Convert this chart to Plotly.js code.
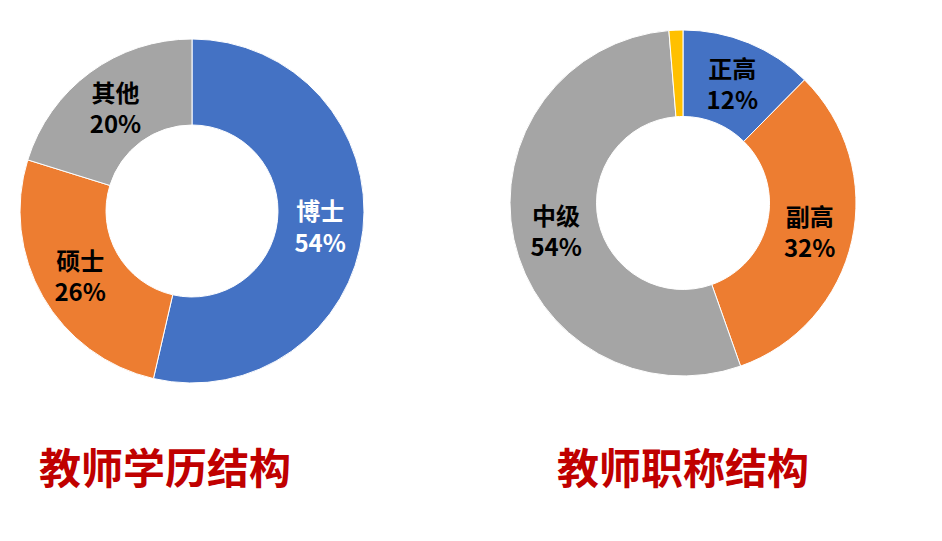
<!DOCTYPE html>
<html>
<head>
<meta charset="utf-8">
<script src="https://cdn.plot.ly/plotly-3.0.1.min.js"></script>
<style>html,body{margin:0;padding:0;background:#fff;}#chart{width:942px;height:541px;}</style>
</head>
<body>
<div id="chart"></div>
<script>
// 教师学历结构
const eduLabels = ['博士', '硕士', '其他'];
const eduValues = [53.6, 26.2, 20.2];
const eduColors = ['#4472C4', '#ED7D31', '#A5A5A5'];
const eduTextColors = ['#FFFFFF', '#000000', '#000000'];

// 教师职称结构
const rankLabels = ['正高', '副高', '中级', '初级'];
const rankValues = [12.4, 32.2, 54.1, 1.3];
const rankColors = ['#4472C4', '#ED7D31', '#A5A5A5', '#FFC000'];
const rankTextColors = ['#000000', '#000000', '#000000', '#000000'];
const rankShowText = [true, true, true, false];

const titles = ['教师学历结构', '教师职称结构'];

const font = '"Noto Sans CJK SC", "Microsoft YaHei", sans-serif';

const traces = [
  {
    type: 'pie',
    labels: eduLabels,
    values: eduValues,
    hole: 0.5,
    sort: false,
    direction: 'clockwise',
    rotation: 0,
    marker: {colors: eduColors, line: {color: '#FFFFFF', width: 1}},
    texttemplate: '%{label}<br>%{percent:.0%}',
    textposition: 'inside',
    insidetextorientation: 'horizontal',
    textfont: {family: font, size: 24, weight: 'bold', color: eduTextColors},
    showlegend: false,
    domain: {x: [20/942, 364/942], y: [0.292, 0.928]}
  },
  {
    type: 'pie',
    labels: rankLabels,
    values: rankValues,
    hole: 0.5,
    sort: false,
    direction: 'clockwise',
    rotation: 0,
    marker: {colors: rankColors, line: {color: '#FFFFFF', width: 1}},
    texttemplate: rankShowText.map(s => s ? '%{label}<br>%{percent:.0%}' : ''),
    textposition: 'inside',
    insidetextorientation: 'horizontal',
    textfont: {family: font, size: 24, weight: 'bold', color: rankTextColors},
    showlegend: false,
    domain: {x: [510/942, 856/942], y: [0.305, 0.9446]}
  }
];

const layout = {
  width: 942,
  height: 541,
  margin: {l: 0, r: 0, t: 0, b: 0},
  paper_bgcolor: '#FFFFFF',
  showlegend: false,
  annotations: [
    {text: titles[0], x: 165/942, y: 0.14, xref: 'paper', yref: 'paper', showarrow: false,
     xanchor: 'center', yanchor: 'middle',
     font: {family: font, size: 42, weight: 'bold', color: '#C00000'}},
    {text: titles[1], x: 683/942, y: 0.14, xref: 'paper', yref: 'paper', showarrow: false,
     xanchor: 'center', yanchor: 'middle',
     font: {family: font, size: 42, weight: 'bold', color: '#C00000'}}
  ]
};

Plotly.newPlot('chart', traces, layout, {displayModeBar: false, staticPlot: true});
</script>
</body>
</html>
